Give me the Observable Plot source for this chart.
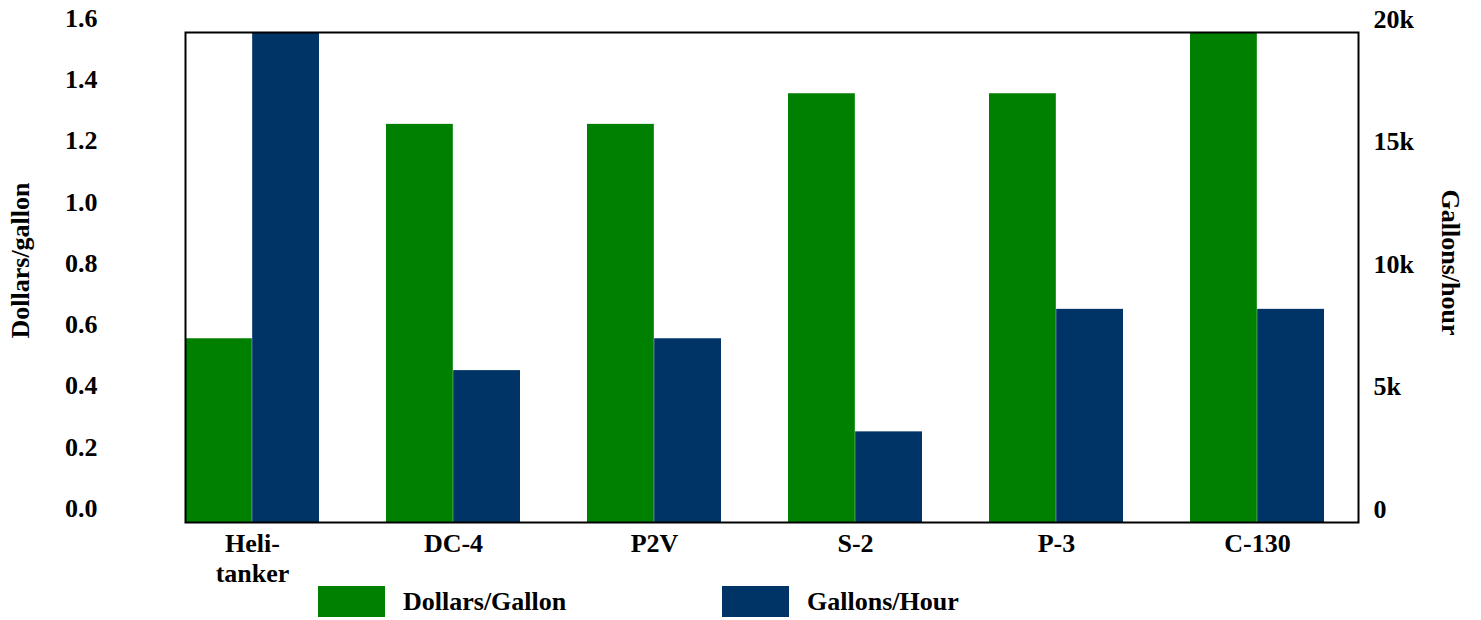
<!DOCTYPE html>
<html>
<head>
<meta charset="utf-8">
<script src="https://cdn.jsdelivr.net/npm/d3@7"></script>
<script src="https://cdn.jsdelivr.net/npm/@observablehq/plot@0.6"></script>
<style>
  html, body { margin: 0; padding: 0; background: white; }
  #wrap { position: relative; width: 1481px; height: 620px; font-family: "Liberation Serif", "Times New Roman", serif; font-weight: bold; }
  .legend { position: absolute; top: 586px; height: 31px; display: flex; align-items: center; font-size: 26px; color: black; }
  .sw { width: 67px; height: 31px; margin-right: 18px; }
</style>
</head>
<body>
<div id="wrap"></div>
<script>
const categories = ["Heli-tanker", "DC-4", "P2V", "S-2", "P-3", "C-130"];
const categoryLabels = ["Heli-\ntanker", "DC-4", "P2V", "S-2", "P-3", "C-130"];
const dollarsPerGallon = [0.6, 1.3, 1.3, 1.4, 1.4, 1.6];
const gallonsPerHour = [20000, 6200, 7500, 3700, 8700, 8700];
const leftTicks = [0, 0.2, 0.4, 0.6, 0.8, 1.0, 1.2, 1.4, 1.6];
const rightTicks = [0, 5000, 10000, 15000, 20000];
const rightTickLabels = ["0", "5k", "10k", "15k", "20k"];
const seriesNames = ["Dollars/Gallon", "Gallons/Hour"];
const seriesColors = ["#008000", "#003366"];

const dollarsMax = 1.6, gallonsMax = 20000;
const toLeft = g => g * dollarsMax / gallonsMax;

const dollarsData = categories.map((c, i) => ({cat: c, v: dollarsPerGallon[i]}));
const gallonsData = categories.map((c, i) => ({cat: c, v: toLeft(gallonsPerHour[i])}));

const xRange = [183.5, 1325.5];
const pad = 1 / 3;
const step = (xRange[1] - xRange[0]) / (categories.length - pad);
const half = step * (1 - pad) / 2;

const font = {fontSize: 26, fontWeight: "bold"};

const chart = Plot.plot({
  width: 1481,
  height: 596,
  marginLeft: 185,
  marginRight: 123,
  marginTop: 32,
  marginBottom: 74,
  style: {fontFamily: "'Liberation Serif', 'Times New Roman', serif", fontSize: "26px", fontWeight: "bold", color: "black", background: "white"},
  x: {type: "band", domain: categories, range: xRange, paddingInner: pad, paddingOuter: 0, label: null},
  y: {domain: [0, dollarsMax], label: null},
  marks: [
    Plot.barY(dollarsData, {x: "cat", y: "v", fill: seriesColors[0], insetLeft: 0, insetRight: half}),
    Plot.barY(gallonsData, {x: "cat", y: "v", fill: seriesColors[1], insetLeft: half, insetRight: 0}),
    Plot.frame({stroke: "black", strokeWidth: 2}),
    Plot.axisY(leftTicks, {anchor: "left", tickSize: 0, tickPadding: 88, dy: -14, tickFormat: d3.format(".1f"), label: null, ...font}),
    Plot.axisY(rightTicks.map(toLeft), {anchor: "right", tickSize: 0, tickPadding: 15, dy: -13, tickFormat: (d, i) => rightTickLabels[i], label: null, ...font}),
    Plot.axisX({anchor: "bottom", tickSize: 0, tickPadding: 8, tickFormat: (d) => categoryLabels[categories.indexOf(d)], lineHeight: 1.15, label: null, ...font}),
    Plot.text(["Dollars/gallon"], {frameAnchor: "left", textAnchor: "middle", rotate: -90, dx: -165, dy: -17, ...font, fill: "black"}),
    Plot.text(["Gallons/hour"], {frameAnchor: "right", textAnchor: "middle", rotate: 90, dx: 92, dy: -15, ...font, fill: "black"})
  ]
});

const wrap = document.getElementById("wrap");
wrap.appendChild(chart);

const legendPos = [318, 722];
seriesNames.forEach((name, i) => {
  const item = document.createElement("div");
  item.className = "legend";
  item.style.left = legendPos[i] + "px";
  const sw = document.createElement("div");
  sw.className = "sw";
  sw.style.background = seriesColors[i];
  const tx = document.createElement("span");
  tx.textContent = name;
  item.appendChild(sw);
  item.appendChild(tx);
  wrap.appendChild(item);
});
</script>
</body>
</html>
